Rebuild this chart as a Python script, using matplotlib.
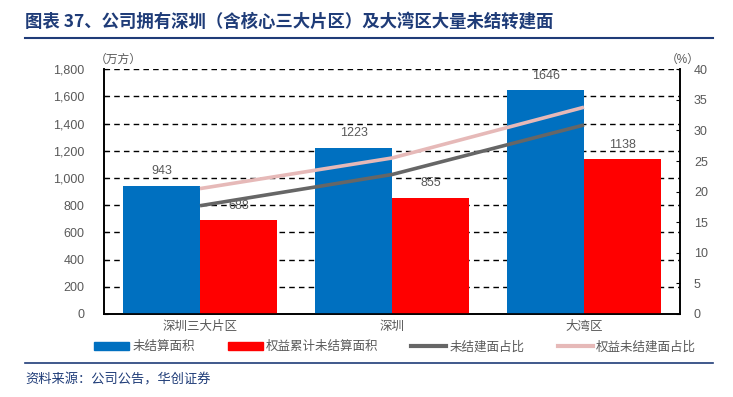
import numpy as np
import matplotlib
matplotlib.use('Agg')
import matplotlib.pyplot as plt
from matplotlib.lines import Line2D
from matplotlib.patches import Patch

plt.rcParams['font.family'] = ['Liberation Sans', 'Noto Sans CJK SC', 'DejaVu Sans']

categories = ['深圳三大片区', '深圳', '大湾区']
unsettled_area = [943, 1223, 1646]
equity_unsettled_area = [688, 855, 1138]
unsettled_ratio = [17.7, 22.8, 30.9]
equity_unsettled_ratio = [20.5, 25.5, 33.8]

series_names = ['未结算面积', '权益累计未结算面积', '未结建面占比', '权益未结建面占比']
title = '图表 37、公司拥有深圳（含核心三大片区）及大湾区大量未结转建面'
source = '资料来源：公司公告，华创证券'

blue = '#0070C0'
red = '#FF0000'
dark = '#666666'
pink = '#E6B9B8'
gray = '#595959'
navy = '#1F3C78'

fig = plt.figure(figsize=(7.33, 3.97), dpi=100)
ax = fig.add_axes([104 / 733, 1 - 314 / 397, 576 / 733, (314 - 69.3) / 397])
ax2 = ax.twinx()

x = np.arange(len(categories))
w = 0.4
b1 = ax.bar(x - w / 2, unsettled_area, w, color=blue, zorder=3)
b2 = ax.bar(x + w / 2, equity_unsettled_area, w, color=red, zorder=3)
for bars in (b1, b2):
    for r in bars:
        ax.annotate(f'{int(r.get_height())}', (r.get_x() + r.get_width() / 2, r.get_height()),
                    xytext=(0, 6), textcoords='offset points', ha='center', va='bottom',
                    fontsize=9, color=gray, zorder=5)

ax2.plot(x, unsettled_ratio, color=dark, lw=2.6, solid_capstyle='butt', zorder=4)
ax2.plot(x, equity_unsettled_ratio, color=pink, lw=2.6, solid_capstyle='butt', zorder=4)

ax.set_xlim(-0.5, 2.5)
ax.set_ylim(0, 1800)
ax.set_yticks(np.arange(0, 1801, 200))
ax.set_yticklabels([f'{v:,}' for v in range(0, 1801, 200)])
ax2.set_ylim(0, 40)
ax2.set_yticks(np.arange(0, 41, 5))

ax.set_xticks(x)
ax.set_xticklabels(categories)
ax.tick_params(axis='x', length=0, pad=5, labelsize=9, labelcolor=gray)
ax.tick_params(axis='y', length=3, direction='in', pad=14, labelsize=9, labelcolor=gray)
ax2.tick_params(axis='y', length=3, direction='in', pad=10, labelsize=9, labelcolor=gray)

for g in range(200, 1801, 200):
    ax.axhline(g, color='black', lw=1, ls=(0, (4, 3)), zorder=1)

for a in (ax, ax2):
    a.spines['top'].set_visible(False)
    for s in ('left', 'right', 'bottom'):
        a.spines[s].set_linewidth(1.2)
        a.spines[s].set_color('black')
ax.set_zorder(ax2.get_zorder() - 1)
ax2.patch.set_visible(False)
ax.patch.set_visible(False)

fig.text(95 / 733, 1 - 60 / 397, '（万方）', fontsize=8.5, color=gray, ha='left', va='center')
fig.text(700 / 733, 1 - 60 / 397, '（%）', fontsize=8.5, color=gray, ha='right', va='center')

handles = [Patch(color=blue), Patch(color=red),
           Line2D([], [], color=dark, lw=3), Line2D([], [], color=pink, lw=3)]
leg = fig.legend(handles, series_names, loc='center', bbox_to_anchor=(395 / 733, 1 - 347 / 397),
                 ncol=4, frameon=False, fontsize=9, handlelength=2.8, handleheight=0.6,
                 columnspacing=2.6, handletextpad=0.3)
for t in leg.get_texts():
    t.set_color(gray)

fig.text(25 / 733, 1 - 22 / 397, title, fontsize=12.5, fontweight='bold', color=navy,
         ha='left', va='center', family=['Noto Sans CJK SC', 'DejaVu Sans'])
fig.add_artist(Line2D([25 / 733, 713 / 733], [1 - 38 / 397] * 2, color=navy, lw=1.5))
fig.add_artist(Line2D([25 / 733, 713 / 733], [1 - 363 / 397] * 2, color=navy, lw=1.2))
fig.text(25 / 733, 1 - 380 / 397, source, fontsize=9.5, style='italic', color=navy,
         ha='left', va='center', family=['Noto Sans CJK SC', 'DejaVu Sans'])

fig.savefig('out.png', dpi=100)
